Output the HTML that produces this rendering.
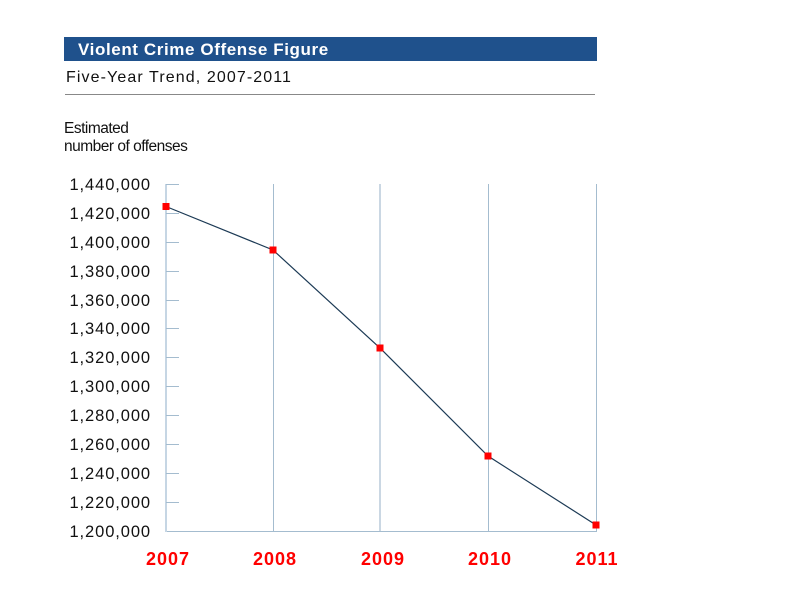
<!DOCTYPE html>
<html><head><meta charset="utf-8"><style>
body{margin:0;background:#fff;}
svg{display:block;font-family:"Liberation Sans",Arial,sans-serif;}
</style></head><body>
<svg width="800" height="600" viewBox="0 0 800 600" xmlns="http://www.w3.org/2000/svg">
<rect x="0" y="0" width="800" height="600" fill="#fff"/>
<rect x="64" y="37" width="533" height="24" fill="#1f518c"/>
<text x="78" y="55" font-size="17" font-weight="bold" fill="#fff" letter-spacing="0.6">Violent Crime Offense Figure</text>
<text x="66" y="82" font-size="16" fill="#111" letter-spacing="1.1">Five-Year Trend, 2007-2011</text>
<line x1="65" y1="94.5" x2="595" y2="94.5" stroke="#888" stroke-width="1"/>
<text x="64" y="133" font-size="15.5" fill="#111" letter-spacing="-0.5">Estimated</text>
<text x="64" y="151" font-size="15.5" fill="#111" letter-spacing="-0.5">number of offenses</text>
<g stroke="#a4bccf" stroke-width="1">
<line x1="273.5" y1="184" x2="273.5" y2="531"/>
<line x1="488.5" y1="184" x2="488.5" y2="531"/>
<line x1="596.5" y1="184" x2="596.5" y2="531"/>
<line x1="166" y1="531.5" x2="597" y2="531.5"/>
</g>
<line x1="380" y1="184" x2="380" y2="531" stroke="#b8cada" stroke-width="1.5"/>
<line x1="166" y1="184" x2="166" y2="532" stroke="#c6d6e4" stroke-width="2"/>
<g stroke="#a4bccf" stroke-width="1">
<line x1="166" y1="184.5" x2="179" y2="184.5"/>
<line x1="166" y1="213.5" x2="179" y2="213.5"/>
<line x1="166" y1="242.5" x2="179" y2="242.5"/>
<line x1="166" y1="271.5" x2="179" y2="271.5"/>
<line x1="166" y1="300.5" x2="179" y2="300.5"/>
<line x1="166" y1="328.5" x2="179" y2="328.5"/>
<line x1="166" y1="357.5" x2="179" y2="357.5"/>
<line x1="166" y1="386.5" x2="179" y2="386.5"/>
<line x1="166" y1="415.5" x2="179" y2="415.5"/>
<line x1="166" y1="444.5" x2="179" y2="444.5"/>
<line x1="166" y1="473.5" x2="179" y2="473.5"/>
<line x1="166" y1="502.5" x2="179" y2="502.5"/>
</g>
<g font-size="16.5" fill="#111" text-anchor="end" letter-spacing="0.9">
<text x="151" y="190">1,440,000</text>
<text x="151" y="219">1,420,000</text>
<text x="151" y="248">1,400,000</text>
<text x="151" y="277">1,380,000</text>
<text x="151" y="306">1,360,000</text>
<text x="151" y="334">1,340,000</text>
<text x="151" y="363">1,320,000</text>
<text x="151" y="392">1,300,000</text>
<text x="151" y="421">1,280,000</text>
<text x="151" y="450">1,260,000</text>
<text x="151" y="479">1,240,000</text>
<text x="151" y="508">1,220,000</text>
<text x="151" y="537">1,200,000</text>
</g>
<polyline points="166,206.5 273,250 380,348 488,456 596,525" fill="none" stroke="#1c3a55" stroke-width="1.2"/>
<g fill="#ff0000">
<rect x="162.5" y="203" width="7" height="7"/>
<rect x="269.5" y="246.5" width="7" height="7"/>
<rect x="376.5" y="344.5" width="7" height="7"/>
<rect x="484.5" y="452.5" width="7" height="7"/>
<rect x="592.5" y="521.5" width="7" height="7"/>
</g>
<g font-size="18" font-weight="bold" fill="#ff0000" text-anchor="middle" letter-spacing="1">
<text x="168" y="565">2007</text>
<text x="275" y="565">2008</text>
<text x="383" y="565">2009</text>
<text x="490" y="565">2010</text>
<text x="597" y="565">2011</text>
</g>
</svg>
</body></html>
